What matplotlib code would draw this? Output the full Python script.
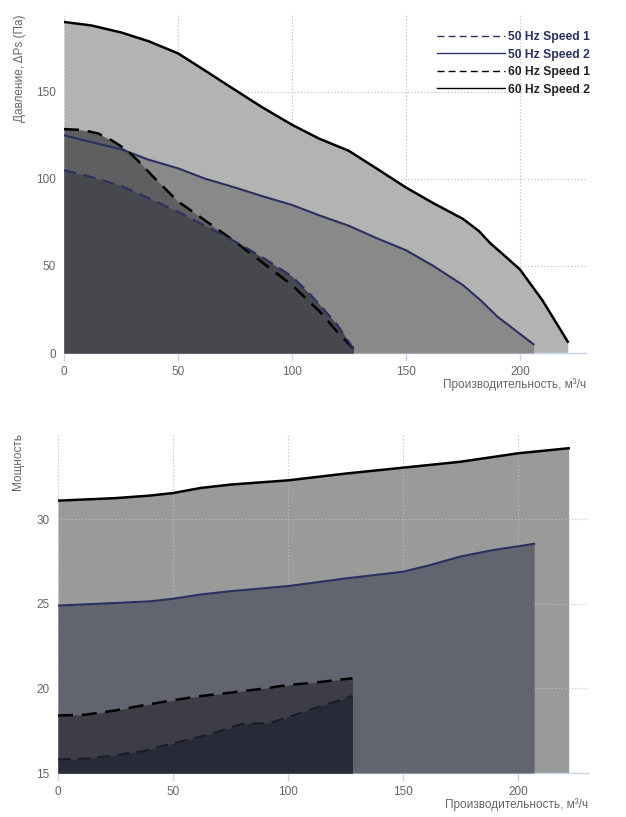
import matplotlib
matplotlib.use("Agg")
import matplotlib.pyplot as plt
from matplotlib.lines import Line2D

plt.rcParams['font.family'] = ['Liberation Sans', 'DejaVu Sans']

# ---- Pressure data (top chart) ----
p60s2_x = [0, 12, 25, 37, 50, 62, 75, 87, 100, 112, 125, 137, 150, 162, 175, 182, 187, 194, 200, 210, 221]
p60s2_y = [190, 188, 184, 179, 172, 162, 151, 141, 131, 123, 116, 106, 95, 86, 77, 70, 63, 55, 48, 30, 6.5]
p50s2_x = [0, 12, 25, 37, 50, 62, 75, 87, 100, 112, 125, 137, 150, 162, 175, 183, 190, 200, 206]
p50s2_y = [125, 121, 117, 111, 106, 100, 95, 90, 85, 79, 73, 66, 59, 50, 39, 30, 21, 11, 5]
p60s1_x = [0, 8, 15, 21, 27, 32, 40, 50, 62, 75, 87, 100, 112, 120, 127]
p60s1_y = [128.5, 128, 126, 122, 117, 111, 100, 87, 76, 64, 52, 39, 24, 12, 2.5]
p50s1_x = [0, 12, 25, 37, 50, 62, 75, 87, 100, 107, 112, 120, 127]
p50s1_y = [105, 101, 96, 89, 81, 73, 64, 55, 44, 35, 28, 16, 2.5]

# ---- Power data (bottom chart) ----
w60s2_x = [0, 25, 40, 50, 62, 75, 100, 125, 150, 175, 190, 200, 222]
w60s2_y = [31.1, 31.25, 31.4, 31.55, 31.85, 32.05, 32.3, 32.7, 33.05, 33.4, 33.7, 33.9, 34.2]
w50s2_x = [0, 25, 40, 50, 62, 75, 100, 125, 150, 162, 175, 190, 200, 207]
w50s2_y = [24.9, 25.05, 25.15, 25.3, 25.55, 25.75, 26.05, 26.5, 26.9, 27.3, 27.8, 28.2, 28.4, 28.55]
w60s1_x = [0, 12, 25, 37, 50, 62, 75, 87, 100, 112, 128]
w60s1_y = [18.4, 18.45, 18.7, 19.0, 19.3, 19.55, 19.75, 19.95, 20.2, 20.35, 20.6]
w50s1_x = [0, 12, 25, 37, 50, 65, 80, 92, 100, 112, 128]
w50s1_y = [15.8, 15.85, 16.05, 16.3, 16.75, 17.25, 17.9, 17.95, 18.3, 18.85, 19.55]

labels = ['50 Hz Speed 1', '50 Hz Speed 2', '60 Hz Speed 1', '60 Hz Speed 2']
x_ticks = [0, 50, 100, 150, 200]
p_yticks = [0, 50, 100, 150]
w_yticks = [15, 20, 25, 30]

NAVY = '#2b3060'
BLACK = '#000000'
DASH = (0, (6, 3.5))

fig = plt.figure(figsize=(6.26, 8.17), dpi=100)

def style(ax, xmax, ylo, yhi, yticks, ylabel):
    ax.set_xlim(0, xmax)
    ax.set_ylim(ylo, yhi)
    ax.set_xticks(x_ticks)
    ax.set_yticks(yticks)
    for s in ['top', 'right', 'left']:
        ax.spines[s].set_visible(False)
    ax.spines['bottom'].set_color('#ccd6eb')
    ax.spines['bottom'].set_linewidth(1)
    ax.grid(True, linestyle=(0, (1, 2)), color='#bbbbbb', linewidth=0.8)
    ax.set_axisbelow(False)
    ax.tick_params(axis='x', colors='#ccd6eb', labelcolor='#666666', labelsize=8.5, length=6, width=1)
    ax.tick_params(axis='y', length=0, labelcolor='#666666', labelsize=8.5, pad=6)
    ax.set_xlabel('Производительность, м³/ч', fontsize=8.5, color='#666666')
    ax.xaxis.set_label_coords(1.0, -0.075)
    ax.xaxis.label.set_horizontalalignment('right')
    ax.set_ylabel(ylabel, fontsize=8.5, color='#666666')
    ax.yaxis.set_label_coords(-0.085, 1.0)
    ax.yaxis.label.set_verticalalignment('center')
    ax.yaxis.label.set_horizontalalignment('right')
    ax.set_facecolor('white')

# ---- Top chart ----
ax1 = fig.add_axes([64 / 626, 1 - 353 / 817, 522 / 626, 338 / 817])
ax1.fill_between(p60s2_x, p60s2_y, 0, color='#b3b3b3', lw=0, zorder=2)
ax1.fill_between(p50s2_x, p50s2_y, 0, color='#898989', lw=0, zorder=3)
ax1.fill_between(p60s1_x, p60s1_y, 0, color='#5f5f61', lw=0, zorder=4)
ax1.fill_between(p50s1_x, p50s1_y, 0, color='#47474e', lw=0, zorder=5)
ax1.plot(p60s2_x, p60s2_y, color=BLACK, lw=1.8, zorder=6)
ax1.plot(p50s2_x, p50s2_y, color=NAVY, lw=1.5, zorder=6)
ax1.plot(p60s1_x, p60s1_y, color=BLACK, lw=1.8, ls=DASH, zorder=7)
ax1.plot(p50s1_x, p50s1_y, color=NAVY, lw=1.5, ls=DASH, zorder=7)
style(ax1, 229, 0, 194, p_yticks, 'Давление, ΔPs (Па)')

handles = [Line2D([], [], color=NAVY, lw=1, ls=(0, (5, 3))),
           Line2D([], [], color=NAVY, lw=1),
           Line2D([], [], color=BLACK, lw=1, ls=(0, (5, 3))),
           Line2D([], [], color=BLACK, lw=1)]
leg = ax1.legend(handles, labels, loc='upper right', bbox_to_anchor=(1.008, 0.952),
                 frameon=False, handlelength=5.6, handletextpad=0.25,
                 labelspacing=0.45, borderaxespad=0, borderpad=0,
                 prop={'weight': 'bold', 'size': 8.7})
for t, c in zip(leg.get_texts(), [NAVY, NAVY, '#222222', '#222222']):
    t.set_color(c)
leg.set_zorder(10)

# ---- Bottom chart ----
ax2 = fig.add_axes([58 / 626, 1 - 773 / 817, 530 / 626, 340 / 817])
ax2.fill_between(w60s2_x, w60s2_y, 15, color='#9a9a9a', lw=0, zorder=2)
ax2.fill_between(w50s2_x, w50s2_y, 15, color='#62646f', lw=0, zorder=3)
ax2.fill_between(w60s1_x, w60s1_y, 15, color='#3d3d47', lw=0, zorder=4)
ax2.fill_between(w50s1_x, w50s1_y, 15, color='#282a38', lw=0, zorder=5)
ax2.plot(w60s2_x, w60s2_y, color=BLACK, lw=1.8, zorder=6)
ax2.plot(w50s2_x, w50s2_y, color=NAVY, lw=1.5, zorder=6)
ax2.plot(w60s1_x, w60s1_y, color=BLACK, lw=1.8, ls=DASH, zorder=7)
ax2.plot(w50s1_x, w50s1_y, color='#1a1c2e', lw=1.5, ls=DASH, zorder=7)
style(ax2, 230.4, 15, 35.1, w_yticks, 'Мощность')
ax2.yaxis.set_label_coords(-0.075, 1.0)

fig.savefig('out.png', dpi=100)
